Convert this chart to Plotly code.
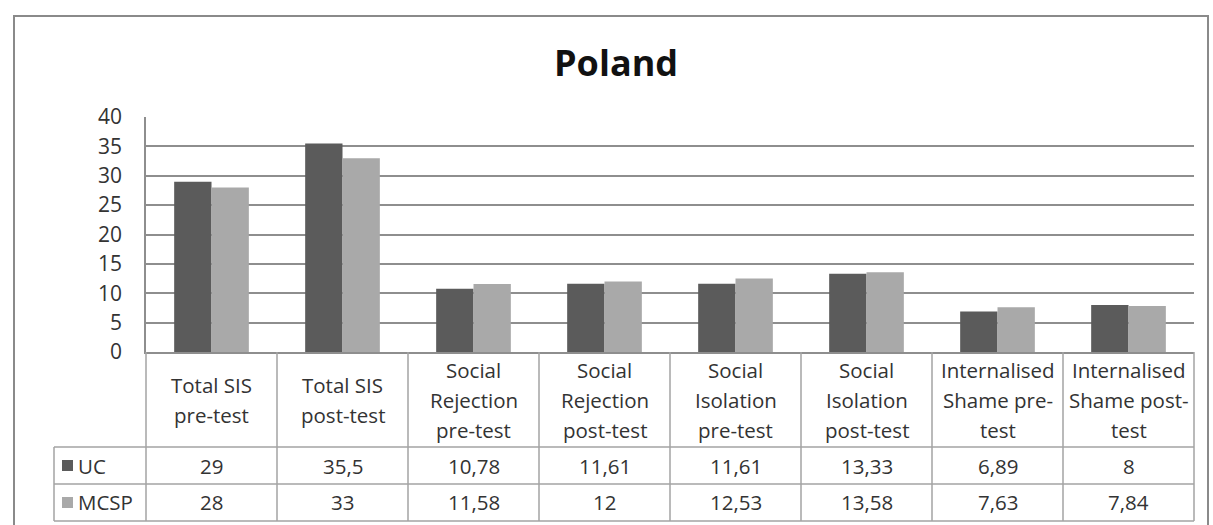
import plotly.graph_objects as go

# Scale categories (header cells of the data table, one entry per line break)
categories = [
    "Total SIS\npre-test",
    "Total SIS\npost-test",
    "Social\nRejection\npre-test",
    "Social\nRejection\npost-test",
    "Social\nIsolation\npre-test",
    "Social\nIsolation\npost-test",
    "Internalised\nShame pre-\ntest",
    "Internalised\nShame post-\ntest",
]
series_names = ["UC", "MCSP"]
uc_values = [29, 35.5, 10.78, 11.61, 11.61, 13.33, 6.89, 8]
mcsp_values = [28, 33, 11.58, 12, 12.53, 13.58, 7.63, 7.84]
y_ticks = [0, 5, 10, 15, 20, 25, 30, 35, 40]

UC_COLOR = "#5b5b5b"
MCSP_COLOR = "#a9a9a9"
GRID = "#8e8e8e"
TABLE_LINE = "#a3a3a3"
TEXT = "#333333"
FONT = "Open Sans"
TABLE_SIZE = 20.5

W, H = 1213, 525
L, R, T, B = 146, 1194, 117, 352   # plot area in pixels


def px_x(px):
    return (px - L) / (R - L)


def px_y(py):
    return (B - py) / (B - T)


x_keys = [c.replace("\n", " ") for c in categories]

fig = go.Figure()
fig.add_trace(go.Bar(x=x_keys, y=uc_values, name=series_names[0],
                     marker=dict(color=UC_COLOR, line=dict(width=0))))
fig.add_trace(go.Bar(x=x_keys, y=mcsp_values, name=series_names[1],
                     marker=dict(color=MCSP_COLOR, line=dict(width=0))))

shapes = []
annotations = []

# Outer chart frame
shapes.append(dict(type="rect", xref="paper", yref="paper",
                   x0=px_x(14), x1=px_x(1208), y0=px_y(540), y1=px_y(16),
                   line=dict(color="#8a8a8a", width=2), fillcolor="rgba(0,0,0,0)",
                   layer="below"))

# Data table grid
row_header_bottom, row_uc_bottom, row_mcsp_bottom = 447, 484, 521
legend_left = 54
n = len(categories)
for i in range(n + 1):
    xp = i / n
    shapes.append(dict(type="line", xref="paper", yref="paper",
                       x0=xp, x1=xp, y0=px_y(B), y1=px_y(row_mcsp_bottom),
                       line=dict(color=TABLE_LINE, width=1.5)))
shapes.append(dict(type="line", xref="paper", yref="paper",
                   x0=px_x(legend_left), x1=px_x(legend_left),
                   y0=px_y(row_header_bottom), y1=px_y(row_mcsp_bottom),
                   line=dict(color=TABLE_LINE, width=1.5)))
for py in (row_header_bottom, row_uc_bottom, row_mcsp_bottom):
    shapes.append(dict(type="line", xref="paper", yref="paper",
                       x0=px_x(legend_left), x1=1, y0=px_y(py), y1=px_y(py),
                       line=dict(color=TABLE_LINE, width=1.5)))

# Header cells: one annotation per text line
line_step = 30
header_mid = (B + row_header_bottom) / 2
for key, label in zip(x_keys, categories):
    lines = label.split("\n")
    start = header_mid - line_step * (len(lines) - 1) / 2
    for j, txt in enumerate(lines):
        annotations.append(dict(x=key, xref="x", yref="paper",
                                y=px_y(start + j * line_step), text=txt,
                                showarrow=False, xanchor="center", yanchor="middle",
                                font=dict(family=FONT, size=TABLE_SIZE, color=TEXT)))


def fmt(v):
    return f"{v:g}".replace(".", ",")


row_centers = [(row_header_bottom + row_uc_bottom) / 2,
               (row_uc_bottom + row_mcsp_bottom) / 2]
for name, color, vals, cy in zip(series_names, [UC_COLOR, MCSP_COLOR],
                                 [uc_values, mcsp_values], row_centers):
    for key, v in zip(x_keys, vals):
        annotations.append(dict(x=key, xref="x", yref="paper", y=px_y(cy),
                                text=fmt(v), showarrow=False,
                                xanchor="center", yanchor="middle",
                                font=dict(family=FONT, size=TABLE_SIZE, color=TEXT)))
    # legend key in the table's first column
    shapes.append(dict(type="rect", xref="paper", yref="paper",
                       x0=px_x(62), x1=px_x(73), y0=px_y(cy + 5.5), y1=px_y(cy - 5.5),
                       line=dict(width=0), fillcolor=color))
    annotations.append(dict(x=px_x(76), xref="paper", yref="paper", y=px_y(cy),
                            text=name, showarrow=False, xanchor="left", yanchor="middle",
                            font=dict(family=FONT, size=TABLE_SIZE, color=TEXT)))

# Chart title
annotations.append(dict(x=px_x(616), xref="paper", yref="paper", y=px_y(63),
                        text="<b>Poland</b>", showarrow=False,
                        xanchor="center", yanchor="middle",
                        font=dict(family=FONT, size=36, color="#111111")))

fig.update_layout(
    width=W, height=H,
    margin=dict(l=L, r=W - R, t=T, b=H - B, pad=0),
    paper_bgcolor="white", plot_bgcolor="white",
    barmode="group", bargap=0.43, bargroupgap=0,
    showlegend=False,
    shapes=shapes, annotations=annotations,
    font=dict(family=FONT, color=TEXT),
)
fig.update_xaxes(showticklabels=False, ticks="", showgrid=False,
                 showline=True, linecolor=GRID, linewidth=1.5,
                 categoryorder="array", categoryarray=x_keys)
fig.update_yaxes(range=[0, 40], tickvals=y_ticks, showgrid=True, gridcolor=GRID,
                 gridwidth=1.5, zeroline=False, showline=True, linecolor=GRID,
                 linewidth=1.5, ticks="", ticklabelstandoff=18,
                 tickfont=dict(family=FONT, size=21, color=TEXT))

fig.write_html("out.html")
